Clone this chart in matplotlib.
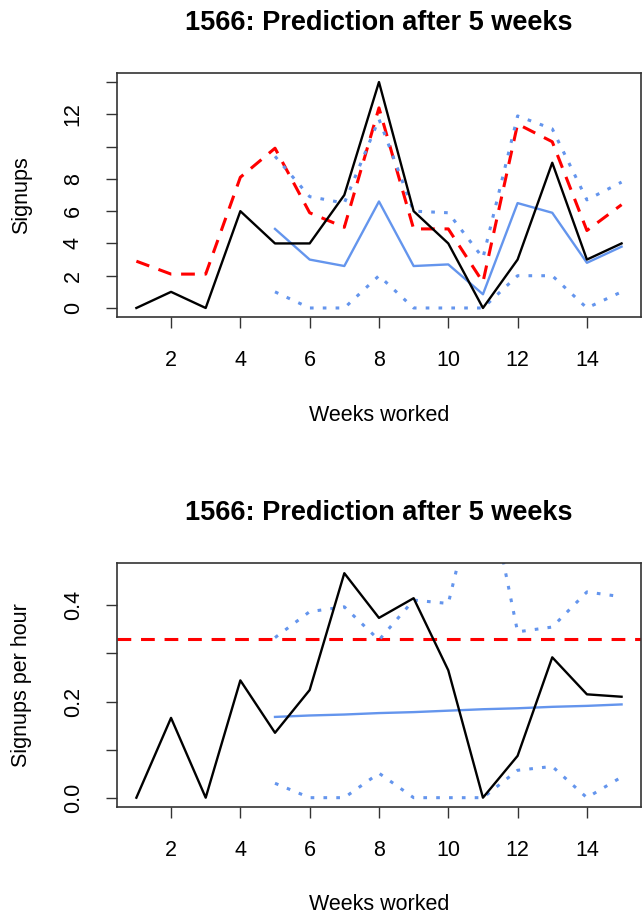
import numpy as np
import matplotlib
matplotlib.use("Agg")
import matplotlib.pyplot as plt

plt.rcParams['font.family'] = ['Liberation Sans', 'DejaVu Sans']

# データ（週ごと）
weeks = np.arange(1, 16)
signups = [0, 1, 0, 6, 4, 4, 7, 14, 6, 4, 0, 3, 9, 3, 4]
signups_red = [2.9, 2.1, 2.1, 8.1, 9.9, 5.9, 5.0, 12.4, 4.9, 4.9, 1.6, 11.4, 10.3, 4.8, 6.4]

pred_weeks = np.arange(5, 16)
pred = [4.9, 3.0, 2.6, 6.6, 2.6, 2.7, 0.85, 6.5, 5.9, 2.8, 3.8]
pred_upper = [9.4, 6.9, 6.5, 11.7, 6.0, 5.9, 3.1, 11.9, 11.1, 6.7, 7.8]
pred_lower = [1, 0, 0, 2, 0, 0, 0, 2, 2, 0, 1]

rate = [0, 0.166, 0, 0.244, 0.135, 0.224, 0.467, 0.374, 0.415, 0.265, 0, 0.087, 0.292, 0.215, 0.21]
rate_red = 0.331
rate_pred = [0.168, 0.171, 0.173, 0.176, 0.178, 0.181, 0.184, 0.186, 0.189, 0.191, 0.194]
rate_upper = [0.333, 0.387, 0.397, 0.328, 0.411, 0.404, 0.70, 0.345, 0.355, 0.428, 0.418]
rate_lower = [0.03, 0, 0, 0.051, 0, 0, 0, 0.057, 0.065, 0, 0.043]

title = "1566: Prediction after 5 weeks"
blue = "#6495ED"
dash = (0, (4.5, 3.2))
dot = (0, (1.2, 3.0))

fig = plt.figure(figsize=(6.42, 9.16), dpi=100)
ax1 = fig.add_axes([0.1822, 0.6539, 0.8162, 0.2664])
ax2 = fig.add_axes([0.1822, 0.1193, 0.8162, 0.2657])


def style(ax, yticks, ylabels, ylabel):
    ax.set_xlim(0.44, 15.56)
    ax.set_xticks(range(2, 15, 2))
    ax.set_yticks(yticks)
    ax.set_yticklabels(ylabels, rotation=90, va='center')
    ax.tick_params(direction='out', length=8, width=1, pad=16, labelsize=15.5, color='#333333')
    for s in ax.spines.values():
        s.set_color('#333333')
        s.set_linewidth(1.2)
    ax.set_title(title, fontsize=19.5, fontweight='bold', pad=31)
    ax.set_xlabel("Weeks worked", fontsize=15.5, labelpad=24)
    ax.set_ylabel(ylabel, fontsize=15.5, labelpad=22)


# 上段：サインアップ数
ax1.plot(weeks, signups_red, color='red', lw=2.2, linestyle=dash)
ax1.plot(pred_weeks, pred_upper, color=blue, lw=2.2, linestyle=dot)
ax1.plot(pred_weeks, pred_lower, color=blue, lw=2.2, linestyle=dot)
ax1.plot(pred_weeks, pred, color=blue, lw=1.7)
ax1.plot(weeks, signups, color='black', lw=1.7)
ax1.set_ylim(-0.56, 14.56)
style(ax1, range(0, 15, 2), ['0', '2', '4', '6', '8', '', '12', ''], "Signups")

# 下段：時間あたり
ax2.axhline(rate_red, color='red', lw=2.2, linestyle=dash)
ax2.plot(pred_weeks, rate_upper, color=blue, lw=2.2, linestyle=dot)
ax2.plot(pred_weeks, rate_lower, color=blue, lw=2.2, linestyle=dot)
ax2.plot(pred_weeks, rate_pred, color=blue, lw=1.7)
ax2.plot(weeks, rate, color='black', lw=1.7)
ax2.set_ylim(-0.0188, 0.4875)
style(ax2, [0, 0.1, 0.2, 0.3, 0.4], ['0.0', '', '0.2', '', '0.4'], "Signups per hour")

fig.savefig("out.png", dpi=100)
